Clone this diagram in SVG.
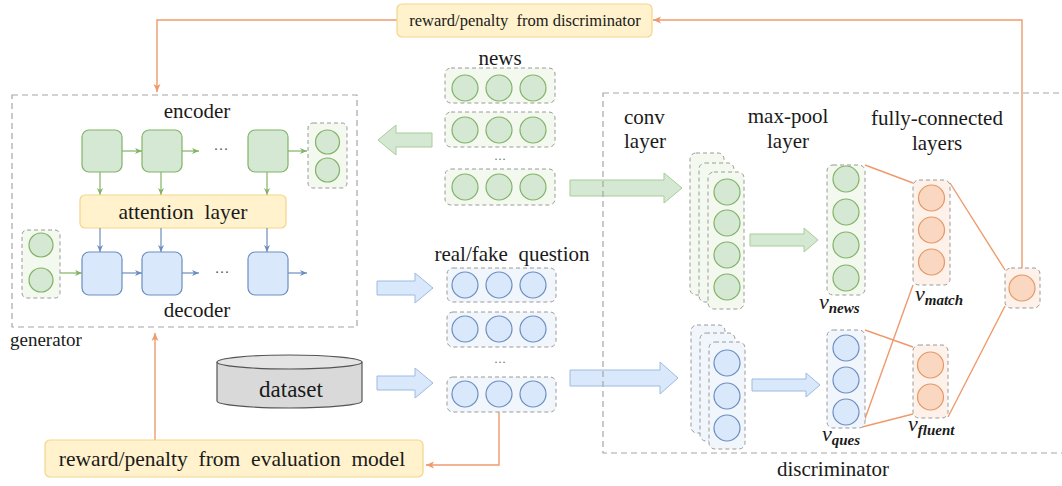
<svg xmlns="http://www.w3.org/2000/svg" width="1062" height="486" viewBox="0 0 1062 486" font-family="'Liberation Serif', serif">
<defs>
<style>
text{font-family:'Liberation Serif','Times New Roman',serif;fill:#1a1a1a;}
.lbl{font-size:21px;}
.mid{text-anchor:middle;}
.math{font-style:italic;font-size:22px;}
.sub{font-size:15px;font-weight:bold;}
.frame{fill:none;stroke:#a6a6a6;stroke-width:1.2;stroke-dasharray:6 4;}
.dg{fill:#f3f9ef;stroke:#9a9a9a;stroke-width:1;stroke-dasharray:4 3;}
.db{fill:#f1f6fd;stroke:#9a9a9a;stroke-width:1;stroke-dasharray:4 3;}
.do{fill:#fdf1ea;stroke:#9a9a9a;stroke-width:1;stroke-dasharray:4 3;}
.cg{fill:#d5e8d4;stroke:#82b366;stroke-width:1.2;}
.cb{fill:#dae8fc;stroke:#6c8ebf;stroke-width:1.2;}
.co{fill:#fad7c0;stroke:#e39a68;stroke-width:1.2;}
.yel{fill:#fff2cc;stroke:#f3d58c;stroke-width:1.2;}
.bag{fill:#d5e8d4;stroke:#a9cd95;stroke-width:1;}
.bab{fill:#dae8fc;stroke:#9cbbe0;stroke-width:1;}
.lg{stroke:#82b366;stroke-width:1.2;fill:none;marker-end:url(#ag);}
.lb{stroke:#6c8ebf;stroke-width:1.2;fill:none;marker-end:url(#ab);}
.lo{stroke:#ee9a6c;stroke-width:1.4;fill:none;}
.loa{stroke:#ee9a6c;stroke-width:1.4;fill:none;marker-end:url(#ao);}
.dots{font-size:15px;fill:#555;}
</style>
<marker id="ag" markerWidth="8" markerHeight="8" refX="7" refY="4" orient="auto" markerUnits="userSpaceOnUse"><path d="M0,1 L7,4 L0,7 L2,4 Z" fill="#82b366"/></marker>
<marker id="ab" markerWidth="8" markerHeight="8" refX="7" refY="4" orient="auto" markerUnits="userSpaceOnUse"><path d="M0,1 L7,4 L0,7 L2,4 Z" fill="#6c8ebf"/></marker>
<marker id="ao" markerWidth="9" markerHeight="9" refX="8" refY="4.5" orient="auto" markerUnits="userSpaceOnUse"><path d="M0,1 L8,4.5 L0,8 L2,4.5 Z" fill="#ee9a6c"/></marker>
</defs>
<rect width="1062" height="486" fill="#ffffff"/>

<g id="connectors">
<polyline class="loa" points="397,20 157,20 157,92"/>
<polyline class="loa" points="1022,268 1022,20 653,20"/>
<line class="loa" x1="155" y1="440" x2="155" y2="333"/>
<polyline class="loa" points="499,412 499,465 426,465"/>
<path class="bag" d="M432,133 L396,133 L396,125 L378,140 L396,155 L396,147 L432,147 Z"/>
<path class="bag" d="M570,180 L664,180 L664,173 L682,188 L664,203 L664,196 L570,196 Z"/>
<path class="bab" d="M377,281 L415,281 L415,273 L433,288 L415,303 L415,295 L377,295 Z"/>
<path class="bab" d="M377,376 L415,376 L415,368 L433,383 L415,398 L415,390 L377,390 Z"/>
<path class="bab" d="M570,370 L660,370 L660,362 L678,378 L660,394 L660,386 L570,386 Z"/>
<path class="bag" d="M750,234 L804,234 L804,228 L818,240 L804,252 L804,246 L750,246 Z"/>
<path class="bab" d="M752,379 L806,379 L806,373 L820,385 L806,397 L806,391 L752,391 Z"/>
<line class="lo" x1="865" y1="165" x2="913" y2="183"/>
<line class="lo" x1="950" y1="183" x2="1005" y2="270"/>
<line class="lo" x1="862" y1="427" x2="913" y2="285"/>
<line class="lo" x1="862" y1="427" x2="913" y2="414"/>
<line class="lo" x1="865" y1="330" x2="913" y2="347"/>
<line class="lo" x1="948" y1="417" x2="1005" y2="306"/>
</g>

<g id="reward-discriminator">
<rect class="yel" x="397" y="4" width="255" height="33" rx="5"/>
<text class="mid" x="525" y="26" style="font-size:16.5px">reward/penalty&#160; from discriminator</text>
</g>

<g id="generator">
<rect class="frame" x="12" y="95" width="345" height="232"/>
<text x="10" y="346" style="font-size:19px">generator</text>
<text class="lbl mid" x="197" y="118">encoder</text>
<text class="lbl mid" x="197" y="317">decoder</text>
<rect class="cg" x="82" y="130" width="40" height="42" rx="7"/>
<rect class="cg" x="142" y="130" width="40" height="42" rx="7"/>
<rect class="cg" x="248" y="130" width="40" height="42" rx="7"/>
<text class="mid dots" x="221" y="154">···</text>
<line class="lg" x1="122" y1="151" x2="142" y2="151"/>
<line class="lg" x1="182" y1="151" x2="199" y2="151"/>
<line class="lg" x1="288" y1="151" x2="307" y2="151"/>
<rect class="dg" x="308" y="123" width="39" height="65" rx="5"/>
<circle class="cg" cx="327.5" cy="142" r="12"/>
<circle class="cg" cx="327.5" cy="170" r="12"/>
<line class="lg" x1="100" y1="172" x2="100" y2="195"/>
<line class="lg" x1="161" y1="172" x2="161" y2="195"/>
<line class="lg" x1="267" y1="172" x2="267" y2="195"/>
<rect class="yel" x="80" y="195" width="206" height="33" rx="5"/>
<text class="mid" x="183" y="219" style="font-size:21.5px">attention&#160; layer</text>
<line class="lb" x1="100" y1="228" x2="100" y2="252"/>
<line class="lb" x1="161" y1="228" x2="161" y2="252"/>
<line class="lb" x1="267" y1="228" x2="267" y2="252"/>
<rect class="cb" x="82" y="252" width="40" height="43" rx="7"/>
<rect class="cb" x="142" y="252" width="40" height="43" rx="7"/>
<rect class="cb" x="248" y="252" width="40" height="43" rx="7"/>
<text class="mid dots" x="222" y="277">···</text>
<line class="lb" x1="122" y1="273" x2="142" y2="273"/>
<line class="lb" x1="182" y1="273" x2="199" y2="273"/>
<line class="lb" x1="288" y1="273" x2="307" y2="273"/>
<rect class="dg" x="22" y="230" width="38" height="68" rx="5"/>
<circle class="cg" cx="41" cy="245" r="12"/>
<circle class="cg" cx="41" cy="280" r="12"/>
<line class="lg" x1="60" y1="273" x2="82" y2="273"/>
</g>

<g id="news">
<text class="lbl mid" x="500" y="65">news</text>
<rect class="dg" x="445" y="68" width="110" height="35" rx="6"/>
<circle class="cg" cx="465" cy="88" r="13"/><circle class="cg" cx="499" cy="88" r="13"/><circle class="cg" cx="533" cy="88" r="13"/>
<rect class="dg" x="445" y="112" width="110" height="35" rx="6"/>
<circle class="cg" cx="465" cy="130" r="13"/><circle class="cg" cx="499" cy="130" r="13"/><circle class="cg" cx="533" cy="130" r="13"/>
<text class="mid" x="500" y="163" style="font-size:12px;fill:#666">···</text>
<rect class="dg" x="445" y="169" width="110" height="36" rx="6"/>
<circle class="cg" cx="465" cy="187" r="13"/><circle class="cg" cx="499" cy="187" r="13"/><circle class="cg" cx="533" cy="187" r="13"/>
</g>

<g id="question">
<text class="lbl mid" x="512" y="261">real/fake&#160; question</text>
<rect class="db" x="447" y="268" width="109" height="34" rx="6"/>
<circle class="cb" cx="465" cy="285" r="13"/><circle class="cb" cx="499" cy="285" r="13"/><circle class="cb" cx="533" cy="285" r="13"/>
<rect class="db" x="447" y="312" width="109" height="35" rx="6"/>
<circle class="cb" cx="465" cy="329" r="13"/><circle class="cb" cx="499" cy="329" r="13"/><circle class="cb" cx="533" cy="329" r="13"/>
<text class="mid" x="500" y="366" style="font-size:12px;fill:#666">···</text>
<rect class="db" x="447" y="377" width="109" height="35" rx="6"/>
<circle class="cb" cx="465" cy="394" r="13"/><circle class="cb" cx="499" cy="394" r="13"/><circle class="cb" cx="533" cy="394" r="13"/>
</g>

<g id="dataset">
<path d="M217,362 L217,401 A72.5,7 0 0 0 362,401 L362,362" fill="#d9d9d9" stroke="#555" stroke-width="1.2"/>
<ellipse cx="289.5" cy="362" rx="72.5" ry="7" fill="#e4e4e4" stroke="#555" stroke-width="1.2"/>
<text class="mid" x="291" y="397" style="font-size:23px">dataset</text>
</g>

<g id="reward-evaluation">
<rect class="yel" x="45" y="440" width="378" height="37" rx="5"/>
<text class="mid" x="232" y="466" style="font-size:21.5px">reward/penalty&#160; from&#160; evaluation&#160; model</text>
</g>

<g id="discriminator">
<rect class="frame" x="603" y="93" width="462" height="360"/>
<text class="mid" x="833" y="476" style="font-size:21px">discriminator</text>
<text class="lbl" x="624" y="124">conv</text>
<text class="lbl" x="624" y="148">layer</text>
<text class="lbl mid" x="788" y="123">max-pool</text>
<text class="lbl mid" x="788" y="148">layer</text>
<text class="lbl mid" x="937" y="125">fully-connected</text>
<text class="lbl mid" x="937" y="150">layers</text>
</g>

<g id="conv-news">
<rect class="dg" x="690" y="153" width="34" height="142" rx="6"/>
<rect class="dg" x="699" y="163" width="35" height="139" rx="6"/>
<rect class="dg" x="708" y="172" width="36" height="137" rx="6"/>
<circle class="cg" cx="727" cy="192" r="13"/><circle class="cg" cx="727" cy="223" r="13"/><circle class="cg" cx="727" cy="255" r="13"/><circle class="cg" cx="727" cy="287" r="13"/>
</g>

<g id="conv-ques">
<rect class="db" x="691" y="325" width="34" height="108" rx="6"/>
<rect class="db" x="700" y="333" width="35" height="108" rx="6"/>
<rect class="db" x="709" y="342" width="36" height="107" rx="6"/>
<circle class="cb" cx="727" cy="363" r="13"/><circle class="cb" cx="727" cy="396" r="13"/><circle class="cb" cx="727" cy="428" r="13"/>
</g>

<g id="v-news">
<rect class="dg" x="827" y="165" width="38" height="130" rx="6"/>
<circle class="cg" cx="846" cy="179" r="13"/><circle class="cg" cx="846" cy="212" r="13"/><circle class="cg" cx="846" cy="245" r="13"/><circle class="cg" cx="846" cy="278" r="13"/>
<text class="math" x="819" y="309">v<tspan class="sub" dy="4">news</tspan></text>
</g>

<g id="v-ques">
<rect class="db" x="827" y="330" width="38" height="98" rx="6"/>
<circle class="cb" cx="846" cy="348" r="13"/><circle class="cb" cx="846" cy="380" r="13"/><circle class="cb" cx="846" cy="412" r="13"/>
<text class="math" x="822" y="441">v<tspan class="sub" dy="4">ques</tspan></text>
</g>

<g id="v-match">
<rect class="do" x="913" y="180" width="37" height="105" rx="6"/>
<circle class="co" cx="931.5" cy="198" r="13"/><circle class="co" cx="931.5" cy="230" r="13"/><circle class="co" cx="931.5" cy="262" r="13"/>
<text class="math" x="915" y="301">v<tspan class="sub" dy="4">match</tspan></text>
</g>

<g id="v-fluent">
<rect class="do" x="913" y="345" width="35" height="73" rx="6"/>
<circle class="co" cx="930.5" cy="365" r="13"/><circle class="co" cx="930.5" cy="397" r="13"/>
<text class="math" x="908" y="431">v<tspan class="sub" dy="4">fluent</tspan></text>
</g>

<g id="output">
<rect class="do" x="1005" y="268" width="35" height="40" rx="6"/>
<circle class="co" cx="1022" cy="288" r="13"/>
</g>
</svg>
